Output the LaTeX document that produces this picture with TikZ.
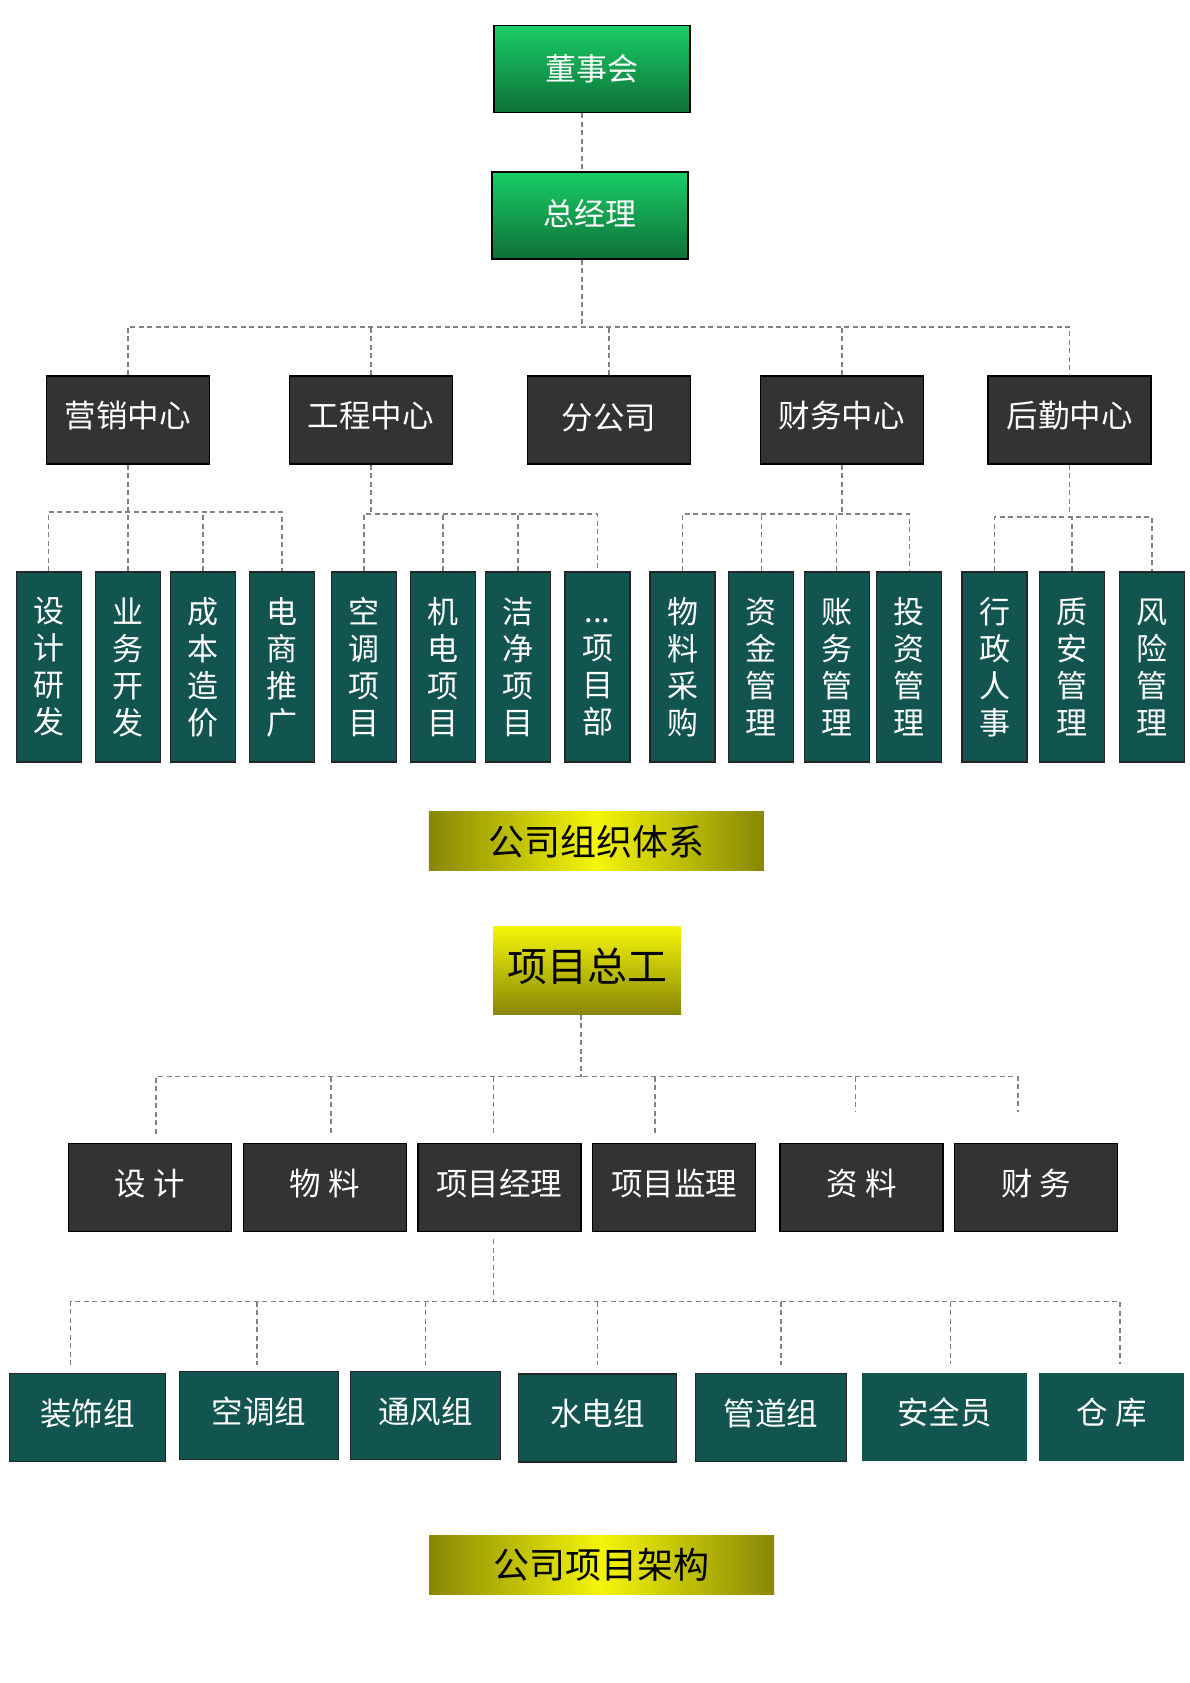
\documentclass[tikz,border=0pt]{standalone}
\usepackage{fontspec}
\setmainfont{Noto Sans CJK SC}
\definecolor{boardtop}{RGB}{25,205,102}
\definecolor{boardbot}{RGB}{14,112,56}
\definecolor{deptgray}{RGB}{51,51,51}
\definecolor{unitteal}{RGB}{18,84,80}
\definecolor{barolive}{RGB}{135,135,5}
\definecolor{baryellow}{RGB}{245,245,10}
\definecolor{linkgray}{RGB}{130,130,130}

\begin{document}
\begin{tikzpicture}[x=1pt,y=-1pt,
  link/.style={linkgray, line width=1.4pt, dash pattern=on 5pt off 3.5pt},
  headbox/.style={draw=black, line width=1.5pt, top color=boardtop, bottom color=boardbot, text=white, inner sep=0pt, minimum width=196pt, minimum height=87pt, font=\fontsize{31}{36}\selectfont},
  deptbox/.style={draw=black, line width=1.2pt, fill=deptgray, text=white, inner sep=0pt, text depth=11pt, minimum width=163pt, minimum height=88pt, font=\fontsize{31.5}{36}\selectfont},
  unitbox/.style={draw=black!85, line width=1.2pt, fill=unitteal, text=white, inner sep=0pt, minimum width=65pt, minimum height=190pt, align=center, font=\fontsize{31}{37}\selectfont},
  groupbox/.style={draw=black!85, line width=1.2pt, fill=unitteal, text=white, inner sep=0pt, text depth=11pt, minimum height=88pt, font=\fontsize{31.5}{36}\selectfont},
  titlebar/.style={left color=barolive, right color=barolive, middle color=baryellow, text=black, inner sep=0pt, minimum height=59pt, font=\fontsize{36}{40}\selectfont}]
 \fill[white] (0,0) rectangle (1190,1683);
 \useasboundingbox (0,0) rectangle (1190,1683);

 \node[headbox] (dsh) at (592,69) {\raisebox{3pt}{董事会}};
 \node[headbox] (zjl) at (590,215.5) {\raisebox{7pt}{总经理}};

 \node[deptbox] (yx) at (127.8,420) {营销中心};
 \node[deptbox] (gc) at (370.8,420) {工程中心};
 \node[deptbox] (fgs) at (608.8,420) {\raisebox{-4pt}{分公司}};
 \node[deptbox] (cwzx) at (841.8,420) {财务中心};
 \node[deptbox] (hq) at (1069.5,420) {后勤中心};

 \node[unitbox] (sjyf) at (48.6,667) {设\\计\\研\\发};
 \node[unitbox] (ywkf) at (128,667) {业\\务\\开\\发};
 \node[unitbox] (cbzj) at (202.8,667) {成\\本\\造\\价};
 \node[unitbox] (dstg) at (282,667) {电\\商\\推\\广};
 \node[unitbox] (ktxm) at (364,667) {空\\调\\项\\目};
 \node[unitbox] (jdxm) at (443,667) {机\\电\\项\\目};
 \node[unitbox] (jjxm) at (518,667) {洁\\净\\项\\目};
 \node[unitbox] (xmb) at (597.5,667) {\vphantom{项}...\\项\\目\\部};
 \node[unitbox] (wlcg) at (682.5,667) {物\\料\\采\\购};
 \node[unitbox] (zjgl) at (761.3,667) {资\\金\\管\\理};
 \node[unitbox] (zwgl) at (836.7,667) {账\\务\\管\\理};
 \node[unitbox] (tzgl) at (909.2,667) {投\\资\\管\\理};
 \node[unitbox] (xzrs) at (994.5,667) {行\\政\\人\\事};
 \node[unitbox] (zagl) at (1072,667) {质\\安\\管\\理};
 \node[unitbox] (fxgl) at (1151.8,667) {风\\险\\管\\理};

 \node[titlebar, minimum width=335pt] (tixi) at (596.4,841.4) {公司组织体系};

 \node[top color=baryellow, bottom color=barolive, text=black, inner sep=0pt, minimum width=188pt, minimum height=88.7pt, font=\fontsize{40}{46}\selectfont] (xmzg) at (587,970.4) {\raisebox{12pt}{项目总工}};

 \node[deptbox] (sj) at (150,1187.5) {设\ 计};
 \node[deptbox] (wl) at (324.9,1187.5) {物\ 料};
 \node[deptbox] (xmjl) at (499.4,1187.5) {项目经理};
 \node[deptbox] (xmjli) at (674,1187.5) {项目监理};
 \node[deptbox] (zl) at (861.5,1187.5) {资\ 料};
 \node[deptbox] (caiwu) at (1036.2,1187.5) {财\ 务};

 \node[groupbox, minimum width=156pt] (zsz) at (87.6,1417.8) {装饰组};
 \node[groupbox, minimum width=158.8pt] (ktz) at (258.9,1415.3) {空调组};
 \node[groupbox, minimum width=149.7pt] (tfz) at (425.3,1415.8) {通风组};
 \node[groupbox, minimum width=158.3pt] (sdz) at (597.7,1418) {水电组};
 \node[groupbox, minimum width=150.8pt] (gdz) at (771,1417.5) {管道组};
 \node[groupbox, draw=none, minimum width=164.9pt] (aqy) at (944.5,1417) {安全员};
 \node[groupbox, draw=none, minimum width=145pt] (ck) at (1111.5,1417) {仓\ 库};

 \node[titlebar, minimum width=345pt] (jiagou) at (601.5,1565.2) {公司项目架构};

 \coordinate (top) at (582,327);
 \draw[link] ([xshift=-10pt]dsh.south) -- ([xshift=-8pt]zjl.north);
 \draw[link] ([xshift=-8pt]zjl.south) -- (top);
 \draw[link] (yx.north) |- (top) -| (hq.north);
 \draw[link] (gc.north) -- (gc.north |- top);
 \draw[link] (fgs.north) -- (fgs.north |- top);
 \draw[link] (cwzx.north) -- (cwzx.north |- top);

 \coordinate (yxbus) at (0,512);
 \draw[link] (yx.south) -- (yx.south |- yxbus);
 \draw[link] (sjyf.north) |- (dstg.north |- yxbus) -- (dstg.north);
 \draw[link] (ywkf.north) -- (ywkf.north |- yxbus);
 \draw[link] (cbzj.north) -- (cbzj.north |- yxbus);

 \coordinate (gcbus) at (0,514);
 \draw[link] (gc.south) -- (gc.south |- gcbus);
 \draw[link] (ktxm.north) |- (xmb.north |- gcbus) -- (xmb.north);
 \draw[link] (jdxm.north) -- (jdxm.north |- gcbus);
 \draw[link] (jjxm.north) -- (jjxm.north |- gcbus);

 \coordinate (cwbus) at (0,514);
 \draw[link] (cwzx.south) -- (cwzx.south |- cwbus);
 \draw[link] (wlcg.north) |- (tzgl.north |- cwbus) -- (tzgl.north);
 \draw[link] (zjgl.north) -- (zjgl.north |- cwbus);
 \draw[link] (zwgl.north) -- (zwgl.north |- cwbus);

 \coordinate (hqbus) at (0,517);
 \draw[link] (hq.south) -- (hq.south |- hqbus);
 \draw[link] (xzrs.north) |- (fxgl.north |- hqbus) -- (fxgl.north);
 \draw[link] (zagl.north) -- (zagl.north |- hqbus);

 \coordinate (pbus) at (581,1076.7);
 \coordinate (zlend) at (855.2,1111.7);
 \coordinate (cwend) at (1017.9,1111.7);
 \draw[link] ([xshift=-6pt]xmzg.south) -- (pbus);
 \draw[link, shorten <=9pt] ([xshift=6pt]sj.north) |- (pbus) -| (cwend);
 \draw[link, shorten >=9pt] ([xshift=6pt]wl.north |- pbus) -- ([xshift=6pt]wl.north);
 \draw[link, shorten >=9pt] ([xshift=-6pt]xmjl.north |- pbus) -- ([xshift=-6pt]xmjl.north);
 \draw[link, shorten >=9pt] ([xshift=-19pt]xmjli.north |- pbus) -- ([xshift=-19pt]xmjli.north);
 \draw[link] (zlend |- pbus) -- (zlend);

 \coordinate (gbus) at (0,1301.7);
 \draw[link, shorten <=7pt] ([xshift=-6pt]xmjl.south) -- ([xshift=-6pt]xmjl.south |- gbus);
 \draw[link, shorten <=8pt, shorten >=8pt] ([xshift=-17pt]zsz.north) -- ([xshift=-17pt]zsz.north |- gbus) -- ([xshift=8.5pt]ck.north |- gbus) -- ([xshift=8.5pt]ck.north);
 \draw[link, shorten >=6pt] ([xshift=-2pt]ktz.north |- gbus) -- ([xshift=-2pt]ktz.north);
 \draw[link, shorten >=6pt] (tfz.north |- gbus) -- (tfz.north);
 \draw[link, shorten >=8pt] (sdz.north |- gbus) -- (sdz.north);
 \draw[link, shorten >=8pt] ([xshift=10pt]gdz.north |- gbus) -- ([xshift=10pt]gdz.north);
 \draw[link, shorten >=8pt] ([xshift=6pt]aqy.north |- gbus) -- ([xshift=6pt]aqy.north);
\end{tikzpicture}
\end{document}
